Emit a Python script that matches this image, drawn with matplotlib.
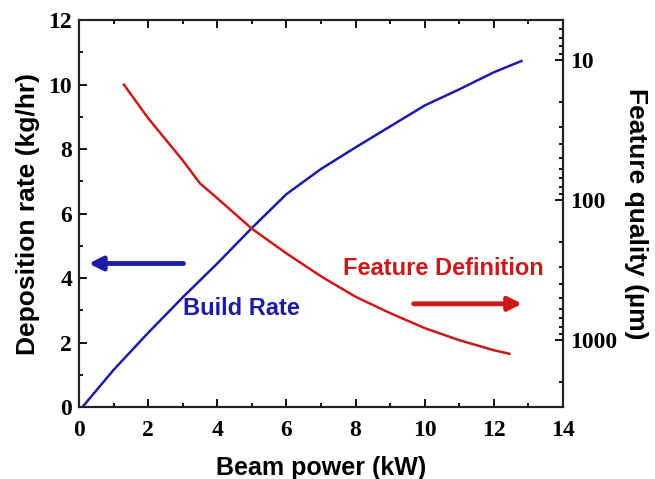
import numpy as np
import matplotlib.pyplot as plt
from matplotlib.ticker import MultipleLocator, LogLocator, NullFormatter, FixedLocator, FixedFormatter

# Build rate (left axis, kg/hr)
rate_kw = [0.1, 1, 2, 3, 4, 5, 6, 7, 8, 9, 10, 11, 12, 12.8]
rate_val = [0.0, 1.15, 2.3, 3.4, 4.45, 5.55, 6.6, 7.38, 8.05, 8.7, 9.35, 9.85, 10.38, 10.73]

# Feature definition (right axis, um, log inverted)
feat_kw = [1.3, 2, 3, 3.5, 4, 5, 6, 7, 8, 9, 10, 11, 12, 12.45]
feat_val = [15, 26, 52, 76, 97, 160, 240, 350, 490, 641, 820, 1000, 1180, 1250]

blue = '#1c1ca6'
red = '#cc1818'
serif = 'Liberation Serif'
sans = 'Liberation Sans'

fig = plt.figure(figsize=(6.55, 4.79), dpi=100)
ax = fig.add_axes([0.1206, 0.1503, 0.7389, 0.8079])
ax2 = ax.twinx()

ax.plot(rate_kw, rate_val, color=blue, lw=1.8)
ax2.plot(feat_kw, feat_val, color=red, lw=1.8)

ax.set_xlim(0, 14)
ax.set_ylim(0, 12)
ax2.set_yscale('log')
ax2.set_ylim(3000, 5.18)

ax.xaxis.set_major_locator(MultipleLocator(2))
ax.xaxis.set_minor_locator(MultipleLocator(1))
ax.yaxis.set_major_locator(MultipleLocator(2))
ax.yaxis.set_minor_locator(MultipleLocator(1))
ax2.yaxis.set_major_locator(FixedLocator([10, 100, 1000]))
ax2.yaxis.set_major_formatter(FixedFormatter(['10', '100', '1000']))
ax2.yaxis.set_minor_locator(LogLocator(base=10, subs=np.arange(2, 10)))
ax2.yaxis.set_minor_formatter(NullFormatter())

ax.tick_params(which='both', direction='in', top=True, right=False, width=1.3)
ax.tick_params(which='major', length=6, labelsize=17, pad=5)
ax.tick_params(axis='x', which='major', pad=9)
ax.tick_params(which='minor', length=3)
ax2.tick_params(which='both', direction='in', width=1.3)
ax2.tick_params(which='major', length=6, labelsize=17, pad=5)
ax2.tick_params(which='minor', length=3)
for lab in ax.get_xticklabels() + ax.get_yticklabels() + ax2.get_yticklabels():
    lab.set_fontfamily(serif)
    lab.set_fontweight('bold')

for a in (ax, ax2):
    for s in a.spines.values():
        s.set_linewidth(1.5)
        s.set_color('#222222')

ax.set_xlabel('Beam power (kW)', fontsize=18, fontweight='bold', family=sans, labelpad=11)
ax.set_ylabel('Deposition rate (kg/hr)', fontsize=19, fontweight='bold', family=sans, labelpad=6)
ax2.set_ylabel('Feature quality (µm)', fontsize=19, fontweight='bold', family=sans,
               rotation=270, labelpad=22)

ax.text(3.0, 3.05, 'Build Rate', color=blue, fontsize=17, fontweight='bold', family=sans,
        ha='left', va='center')
ax.annotate('', xy=(0.2, 4.45), xytext=(3.1, 4.45),
            arrowprops=dict(arrowstyle='-|>', color=blue, lw=3.5, mutation_scale=20))
ax.text(7.65, 4.3, 'Feature Definition', color=red, fontsize=17, fontweight='bold', family=sans,
        ha='left', va='center')
ax.annotate('', xy=(12.9, 3.2), xytext=(9.6, 3.2),
            arrowprops=dict(arrowstyle='-|>', color=red, lw=3.5, mutation_scale=20))

fig.savefig('out.png', dpi=100)
